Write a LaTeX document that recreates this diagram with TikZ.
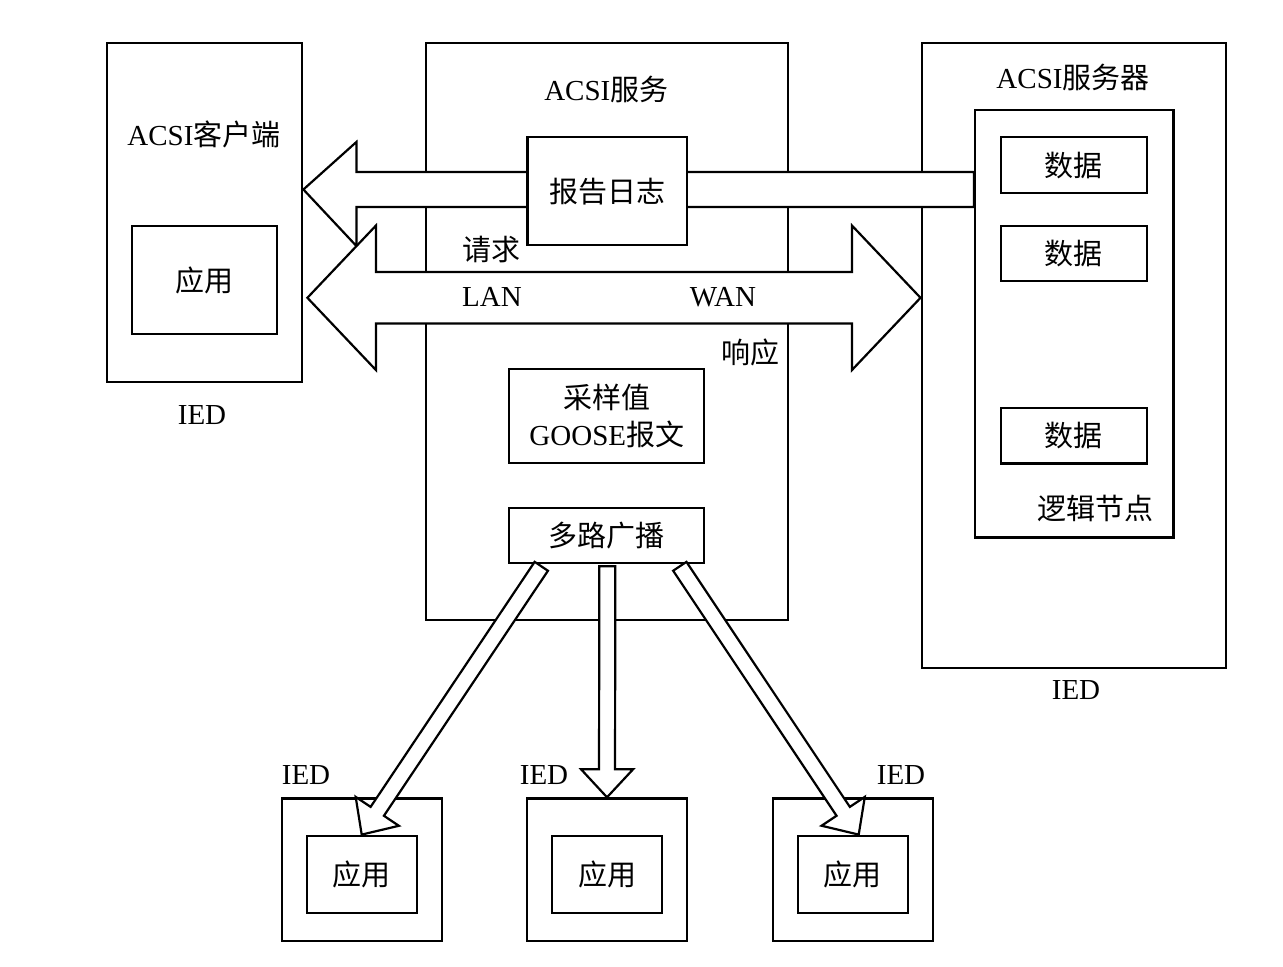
\documentclass[tikz,border=0pt]{standalone}
\usepackage{fontspec}
\setmainfont{Liberation Serif}
\newfontfamily\cjk{Noto Sans CJK SC}
\usetikzlibrary{calc,positioning}
\newcommand{\zh}[1]{{\cjk #1}}
% block arrow from #1 to the tip #2
\newcommand{\fatarrow}[2]{%
  \coordinate (fa-h) at ($(#2)!14pt!(#1)$);
  \filldraw[blockarr] ($(#1)!4pt!90:(#2)$) -- ($(fa-h)!4pt!90:(#2)$) -- ($(fa-h)!13pt!90:(#2)$) -- (#2)
    -- ($(fa-h)!13pt!-90:(#2)$) -- ($(fa-h)!4pt!-90:(#2)$) -- ($(#1)!4pt!-90:(#2)$) -- cycle;}

\begin{document}
\begin{tikzpicture}[x=0.5pt,y=-0.5pt,line width=1.1pt,
    every node/.style={font=\fontsize{14.5}{17}\selectfont},
    box/.style={draw,fill=white,inner sep=0pt,line width=1.1pt},
    databox/.style={box,minimum width=72.8pt,minimum height=27.6pt},
    iedbox/.style={box,minimum width=80pt,minimum height=71.3pt},
    appbox/.style={box,minimum width=55pt,minimum height=38.8pt},
    lbl/.style={inner sep=0pt,align=center},
    blockarr/.style={draw,fill=white,line width=1.1pt,line join=miter}]
  \useasboundingbox (0,0) rectangle (1283,967);

  % server IED
  \node[box,minimum width=152.2pt,minimum height=312.5pt] (srv) at (1073.8,355.8) {};
  \node[lbl] (srv-t) at (1073,77) {ACSI\zh{服务器}};
  \node[box,minimum width=99.2pt,minimum height=213.7pt] (ln) at (1074.2,323.7) {};
  \node[databox,minimum height=28pt] (d1) at (1073.8,165.3) {\zh{数据}};
  \node[databox] (d2) at (1073.8,253.5) {\zh{数据}};
  \node[databox] (d3) at (1073.8,435.8) {\zh{数据}};
  \node[lbl] (ln-t) at (1095,508) {\zh{逻辑节点}};
  \node[lbl] (srv-ied) at (1076,690) {IED};

  % client IED
  \node[box,minimum width=97.8pt,minimum height=169.2pt] (cli) at (204.5,212.5) {};
  \node[lbl] (cli-t) at (204,134) {ACSI\zh{客户端}};
  \node[box,minimum width=72.5pt,minimum height=54pt] (cliapp) at (204.2,280) {\zh{应用}};
  \node[lbl] (cli-ied) at (202,415) {IED};

  % ACSI services
  \node[box,minimum width=181.3pt,minimum height=288.3pt] (svc) at (607,331.7) {};
  \node[lbl] (svc-t) at (606.3,89) {ACSI\zh{服务}};

  % report / log arrow
  \coordinate (rpt-tip) at ($(cli.east)+(0,-23)$);
  \coordinate (rpt-src) at (ln.west |- rpt-tip);
  \filldraw[blockarr] ($(rpt-src)+(0,-17.5)$) -- ($(rpt-tip)+(53,-17.5)$) -- ++(0,-30) -- (rpt-tip)
    -- ++(53,56.5) -- ++(0,-39) -- ($(rpt-src)+(0,17.5)$) -- cycle;
  \node[box,minimum width=79.8pt,minimum height=53.8pt] (rpt) at (607.2,191.2) {\zh{报告日志}};

  % request / response arrow
  \coordinate (wan-tip) at ($(srv.west)+(0,-58)$);
  \coordinate (lan-tip) at ($(cli.east |- wan-tip)+(4,0)$);
  \filldraw[blockarr] (lan-tip) -- ++(68.5,-72.2) -- ++(0,46.5) -- ($(wan-tip)+(-68.5,-25.7)$) -- ++(0,-46.5)
    -- (wan-tip) -- ++(-68.5,72.2) -- ++(0,-46.5) -- ($(lan-tip)+(68.5,25.7)$) -- ++(0,46.5) -- cycle;
  \node[lbl] (req) at (491,250) {\zh{请求}};
  \node[lbl] (lan) at (492,297) {LAN};
  \node[lbl] (wan) at (723,297) {WAN};
  \node[lbl] (rsp) at (750,352) {\zh{响应}};

  \node[box,minimum width=97.5pt,minimum height=47pt,font=\fontsize{14.5}{18.5}\selectfont,align=center]
    (smv) at (606.8,416.3) {\zh{采样值}\\GOOSE\zh{报文}};
  \node[box,minimum width=97.5pt,minimum height=27.5pt] (mcast) at (606.8,535.2) {\zh{多路广播}};

  % receiving IEDs
  \foreach \x [count=\i] in {361.7,607,852.7} {
    \node[iedbox] (ied\i) at (\x,869.7) {};
    \node[appbox] (app\i) at (\x,874.5) {\zh{应用}};
  }
  \node[lbl] (ied1-t) at (306,775) {IED};
  \node[lbl] (ied2-t) at (544,775) {IED};
  \node[lbl] (ied3-t) at (901,775) {IED};

  % multicast arrows
  \coordinate (m1) at ($(mcast.south)+(-65.5,2.5)$);
  \coordinate (m2) at ($(mcast.south)+(0.5,2.5)$);
  \coordinate (m3) at ($(mcast.south)+(73,2.5)$);
  \coordinate (t3) at ($(app3.north)+(6,0)$);
  \fatarrow{m1}{app1.north}
  \fatarrow{m2}{ied2.north}
  \fatarrow{m3}{t3}
\end{tikzpicture}
\end{document}
